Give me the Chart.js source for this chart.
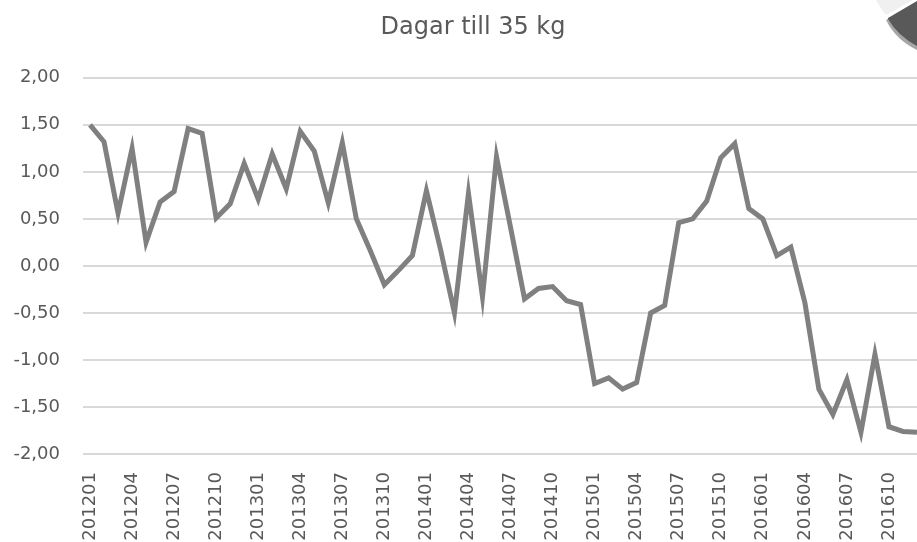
<!DOCTYPE html>
<html>
<head>
<meta charset="utf-8">
<script src="https://cdn.jsdelivr.net/npm/chart.js@4/dist/chart.umd.min.js"></script>
<style>
  html, body { margin: 0; padding: 0; background: #fff; overflow: hidden; }
  #wrap { width: 946px; height: 542px; }
</style>
</head>
<body>
<div id="wrap"><canvas id="chart"></canvas></div>
<script>
const months = [
  '201201', '201202', '201203', '201204', '201205', '201206',
  '201207', '201208', '201209', '201210', '201211', '201212',
  '201301', '201302', '201303', '201304', '201305', '201306',
  '201307', '201308', '201309', '201310', '201311', '201312',
  '201401', '201402', '201403', '201404', '201405', '201406',
  '201407', '201408', '201409', '201410', '201411', '201412',
  '201501', '201502', '201503', '201504', '201505', '201506',
  '201507', '201508', '201509', '201510', '201511', '201512',
  '201601', '201602', '201603', '201604', '201605', '201606',
  '201607', '201608', '201609', '201610', '201611', '201612'
]

const dagar = [
  1.50, 1.32, 0.56, 1.25, 0.25, 0.68, 0.79, 1.46, 1.41, 0.51, 0.66, 1.09,
  0.71, 1.19, 0.82, 1.43, 1.22, 0.67, 1.31, 0.50, 0.16, -0.20, -0.05, 0.11,
  0.80, 0.18, -0.50, 0.77, -0.33, 1.16, 0.41, -0.35, -0.24, -0.22, -0.37, -0.41,
  -1.25, -1.19, -1.31, -1.24, -0.50, -0.42, 0.46, 0.50, 0.69, 1.15, 1.30, 0.61,
  0.50, 0.11, 0.20, -0.39, -1.31, -1.58, -1.21, -1.77, -0.94, -1.71, -1.76, -1.77
]

const textColor = '#595959'
const fontFamily = '"DejaVu Sans", sans-serif'

// title is centred over the whole chart, not just up to the right padding
const fullWidthTitle = {
  id: 'fullWidthTitle',
  afterLayout(chart) {
    const t = chart.titleBlock
    if (!t) return
    t.left = 0
    t.right = chart.width
    t.width = chart.width
  }
}

// the little page-curl in the top right corner of the picture
const cornerCurl = {
  id: 'cornerCurl',
  afterDraw(chart) {
    const ctx = chart.ctx
    ctx.save()
    ctx.fillStyle = '#f0f0f0'
    ctx.beginPath()
    ctx.moveTo(876, 0)
    ctx.lineTo(913, 0)
    ctx.lineTo(886, 15)
    ctx.quadraticCurveTo(880, 8, 876, 0)
    ctx.closePath()
    ctx.fill()

    ctx.fillStyle = '#a6a6a6'
    ctx.beginPath()
    ctx.moveTo(886, 20)
    ctx.lineTo(917, 3)
    ctx.lineTo(917, 50)
    ctx.quadraticCurveTo(896, 40, 886, 20)
    ctx.closePath()
    ctx.fill()

    ctx.fillStyle = '#595959'
    ctx.beginPath()
    ctx.moveTo(888, 18)
    ctx.lineTo(917, 1)
    ctx.lineTo(917, 46)
    ctx.quadraticCurveTo(898, 36, 888, 19)
    ctx.closePath()
    ctx.fill()
    ctx.restore()
  }
}

new Chart(document.querySelector('#chart'), {
  type: 'line',
  data: {
    labels: months,
    datasets: [{
      data: dagar,
      borderColor: '#808080',
      borderWidth: 5,
      pointRadius: 0,
      fill: false,
      tension: 0
    }]
  },
  options: {
    responsive: true,
    maintainAspectRatio: false,
    animation: false,
    layout: { padding: { left: 0, right: 22, top: 0, bottom: 0 } },
    plugins: {
      legend: { display: false },
      tooltip: { enabled: false },
      title: {
        display: true,
        text: 'Dagar till 35 kg',
        color: textColor,
        font: { family: fontFamily, size: 24, weight: 'normal' },
        padding: { top: 13, bottom: 36 }
      }
    },
    scales: {
      x: {
        offset: true,
        grid: { display: false, drawTicks: false },
        border: { display: false },
        ticks: {
          autoSkip: false,
          maxRotation: 90,
          minRotation: 90,
          padding: 18,
          color: textColor,
          font: { family: fontFamily, size: 18 },
          callback: (v, i) => i % 3 === 0 ? months[i] : null
        },
        afterFit: scale => { scale.height = 88 }
      },
      y: {
        min: -2,
        max: 2,
        grid: { color: '#d9d9d9', lineWidth: 2, drawTicks: false },
        border: { display: false },
        ticks: {
          stepSize: 0.5,
          padding: 23,
          color: textColor,
          font: { family: fontFamily, size: 18 },
          callback: v => v.toFixed(2).replace('.', ',')
        },
        afterFit: scale => { scale.width = 83 }
      }
    }
  },
  plugins: [fullWidthTitle, cornerCurl]
})
</script>
</body>
</html>
